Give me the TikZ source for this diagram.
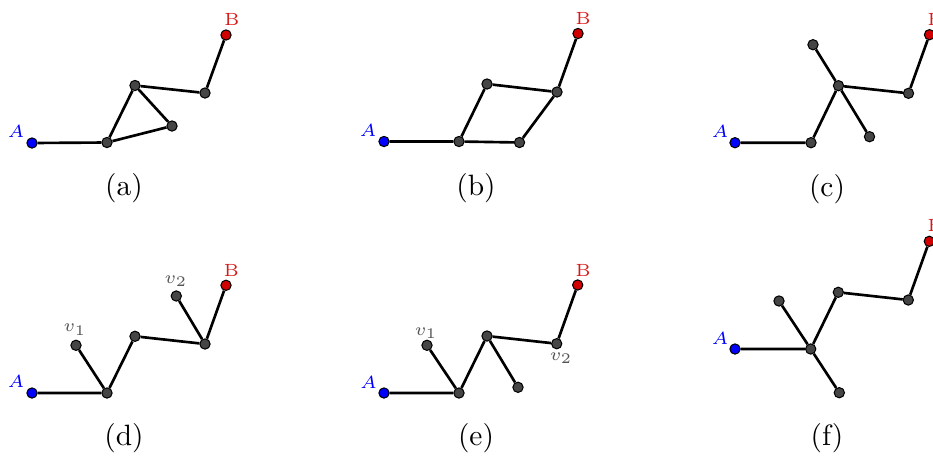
\documentclass[tikz,border=0pt]{standalone}
\usepackage{xcolor}
\usetikzlibrary{calc}
\definecolor{vtxgray}{gray}{0.27}
\definecolor{lblgray}{gray}{0.33}
\definecolor{endblue}{rgb}{0,0,1}
\definecolor{endred}{rgb}{0.82,0,0}
\definecolor{lblred}{rgb}{0.85,0.1,0.1}

\begin{document}
\begin{tikzpicture}[
  x=0.34pt,y=-0.34pt,
  vtx/.style={circle,draw=black,line width=0.35pt,fill=vtxgray,
    inner sep=0pt,minimum size=3.5pt},
  vtx A/.style={vtx,fill=endblue},
  vtx B/.style={vtx,fill=endred},
  edge/.style={draw=black,line width=0.9pt},
  lbl/.style={font=\fontsize{6}{7}\selectfont,inner sep=0pt},
  panelcap/.style={font=\normalsize},
]
  \useasboundingbox (0,0) rectangle (933,456);

  % (a) the detour closes into a triangle.
  \node[vtx A] (aA) at (32,143) {};
  \node[vtx] (a1) at (107,142.5) {};
  \node[vtx] (a2) at (135,85.5) {};
  \node[vtx] (a3) at (172,126) {};
  \node[vtx] (a4) at (205,93) {};
  \node[vtx B] (aB) at (226,35) {};
  \draw[edge] (aA) -- (a1) -- (a2) -- (a4) -- (aB);
  \draw[edge] (a1) -- (a3) -- (a2);
  \node[lbl,text=endblue] (aAl) at (16,131) {$A$};
  \node[lbl,text=lblred] (aBl) at (232,19) {B};
  \node[panelcap] (acap) at (124,188.5) {(a)};

  % (b) a four-cycle between the two paths.
  \node[vtx A] (bA) at (384,141.5) {};
  \node[vtx] (b1) at (459,141.5) {};
  \node[vtx] (b2) at (487,84) {};
  \node[vtx] (b3) at (519.5,142.5) {};
  \node[vtx] (b4) at (557,92) {};
  \node[vtx B] (bB) at (578,33.5) {};
  \draw[edge] (bA) -- (b1) -- (b2) -- (b4) -- (bB);
  \draw[edge] (b1) -- (b3) -- (b4);
  \node[lbl,text=endblue] (bAl) at (368,130) {$A$};
  \node[lbl,text=lblred] (bBl) at (583,18.5) {B};
  \node[panelcap] (bcap) at (476,188.5) {(b)};

  % (c)
  \node[vtx A] (cA) at (735,142.7) {};
  \node[vtx] (c1) at (811,142.7) {};
  \node[vtx] (c2) at (838.5,85.7) {};
  \node[vtx] (c3) at (813,44.7) {};
  \node[vtx] (c5) at (869.5,136.7) {};
  \node[vtx] (c4) at (908.5,93.3) {};
  \node[vtx B] (cB) at (929.5,34.7) {};
  \draw[edge] (cA) -- (c1) -- (c2) -- (c4) -- (cB);
  \draw[edge] (c3) -- (c2) -- (c5);
  \node[lbl,text=endblue] (cAl) at (720,131) {$A$};
  \node[lbl,text=lblred] (cBl) at (935,19) {B};
  \node[panelcap] (ccap) at (827,189) {(c)};

  % (d) two pendant vertices hang off the path.
  \node[vtx A] (dA) at (32,393) {};
  \node[vtx] (d1) at (107,393) {};
  \node[vtx] (dv1) at (76,345.3) {};
  \node[vtx] (d2) at (135,336.3) {};
  \node[vtx] (d4) at (205,344) {};
  \node[vtx] (dv2) at (176.3,296) {};
  \node[vtx B] (dB) at (226,285.3) {};
  \draw[edge] (dA) -- (d1) -- (d2) -- (d4) -- (dB);
  \draw[edge] (dv1) -- (d1);
  \draw[edge] (dv2) -- (d4);
  \node[lbl,text=endblue] (dAl) at (16,381) {$A$};
  \node[lbl,text=lblgray] (dv1l) at (75,329.5) {$v_1$};
  \node[lbl,text=lblgray] (dv2l) at (176,281) {$v_2$};
  \node[lbl,text=lblred] (dBl) at (231.5,270.5) {B};
  \node[panelcap] (dcap) at (124,438) {(d)};

  % (e)
  \node[vtx A] (eA) at (384,393) {};
  \node[vtx] (e1) at (459,393) {};
  \node[vtx] (ev1) at (427,345.3) {};
  \node[vtx] (e2) at (487,336) {};
  \node[vtx] (e3) at (518,387.3) {};
  \node[vtx] (ev2) at (556.7,343.7) {};
  \node[vtx B] (eB) at (577.7,285) {};
  \draw[edge] (eA) -- (e1) -- (e2) -- (ev2) -- (eB);
  \draw[edge] (ev1) -- (e1);
  \draw[edge] (e2) -- (e3);
  \node[lbl,text=endblue] (eAl) at (368.5,382) {$A$};
  \node[lbl,text=lblgray] (ev1l) at (426,333.3) {$v_1$};
  \node[lbl,text=lblgray] (ev2l) at (561,358.3) {$v_2$};
  \node[lbl,text=lblred] (eBl) at (583,270.5) {B};
  \node[panelcap] (ecap) at (476,438) {(e)};

  % (f) the branching moves down to the first inner vertex.
  \node[vtx A] (fA) at (735,349) {};
  \node[vtx] (f1) at (810.7,349) {};
  \node[vtx] (f3) at (779,301) {};
  \node[vtx] (f5) at (839.3,392.7) {};
  \node[vtx] (f2) at (838.3,292.3) {};
  \node[vtx] (f4) at (908.3,300) {};
  \node[vtx B] (fB) at (929.3,241.3) {};
  \draw[edge] (fA) -- (f1) -- (f2) -- (f4) -- (fB);
  \draw[edge] (f3) -- (f1) -- (f5);
  \node[lbl,text=endblue] (fAl) at (720,338.5) {$A$};
  \node[lbl,text=lblred] (fBl) at (935,225.5) {B};
  \node[panelcap] (fcap) at (827,438) {(f)};
\end{tikzpicture}
\end{document}
